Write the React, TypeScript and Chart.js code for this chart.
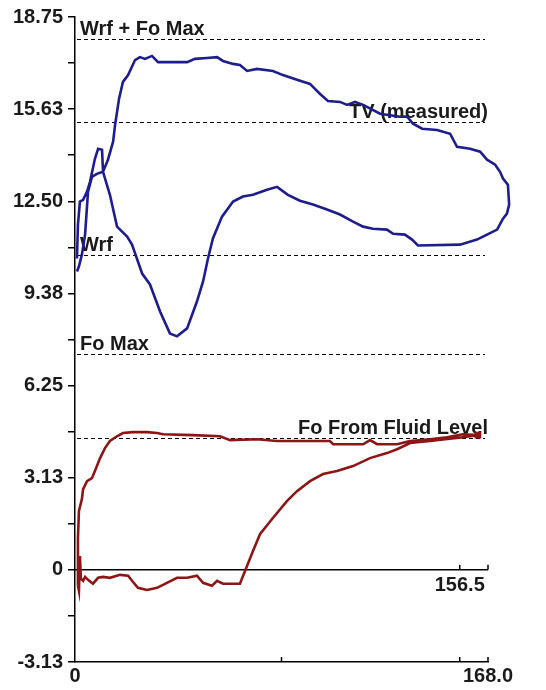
import React, { useEffect, useRef } from 'react';
import { Chart, registerables } from 'chart.js';

Chart.register(...registerables);

// Measured card (blue loop): [position, load]
const tvCard: [number, number][] = [
  [0.8, 10.12], [1.6, 10.29], [2.8, 10.69], [4.1, 11.37], [5.3, 12.83], [6.9, 13.33], [8.9, 13.43],
  [11.4, 13.5], [13.4, 13.91], [15.5, 14.52], [16.3, 15.09], [17.9, 15.97], [19.5, 16.55], [21.6, 16.78],
  [24.4, 17.29], [26.4, 17.39], [28.5, 17.33], [31.3, 17.43], [33.8, 17.22], [45.6, 17.22], [48.8, 17.33],
  [53.7, 17.36], [57.8, 17.39], [60.2, 17.26], [64.3, 17.16], [67.1, 17.12], [70.0, 16.92], [74.0, 16.99],
  [80.5, 16.92], [84.6, 16.78], [90.3, 16.62], [95.6, 16.48], [99.7, 16.14], [102.9, 15.9], [107.8, 15.87],
  [110.7, 15.77], [113.9, 15.87], [117.2, 15.77], [124.1, 15.47], [132.2, 15.37], [135.1, 15.37],
  [137.5, 15.13], [141.2, 14.96], [147.3, 14.92], [152.6, 14.79], [155.4, 14.35], [160.7, 14.28],
  [164.8, 14.18], [167.6, 13.91], [170.9, 13.74], [172.9, 13.5], [174.1, 13.27], [176.1, 13.06],
  [176.6, 12.39], [175.7, 12.08], [174.1, 11.91], [171.7, 11.54], [167.6, 11.37], [163.5, 11.2],
  [156.6, 11.03], [139.5, 11.0], [137.1, 11.2], [134.2, 11.37], [129.4, 11.4], [126.9, 11.54],
  [121.2, 11.57], [117.2, 11.64], [113.1, 11.81], [107.8, 12.05], [102.5, 12.22], [96.8, 12.39],
  [91.5, 12.52], [86.6, 12.72], [82.2, 12.99], [78.1, 12.89], [72.4, 12.72], [68.3, 12.66], [64.3, 12.49],
  [59.8, 11.98], [56.1, 11.24], [54.1, 10.56], [52.1, 9.78], [49.6, 9.1], [45.6, 8.19], [41.5, 7.92],
  [38.6, 8.02], [34.6, 8.76], [30.5, 9.68], [27.3, 10.05], [23.2, 11.03], [21.2, 11.3], [17.1, 11.64],
  [14.2, 12.72], [11.4, 13.5], [11.0, 14.25], [9.4, 14.28], [8.1, 13.94], [6.1, 13.16], [4.9, 12.83],
  [3.3, 12.55], [2.0, 12.49], [1.2, 11.71], [0.8, 10.56],
];

// Pump card (red loop): [position, load]
const foCard: [number, number][] = [
  [1.2, -0.54], [1.2, 0.3], [1.2, 1.08], [1.6, 2.0], [2.8, 2.4], [3.3, 2.74], [4.9, 3.01], [6.9, 3.11],
  [8.1, 3.35], [10.2, 3.79], [12.2, 4.13], [14.2, 4.37], [17.1, 4.53], [19.5, 4.64], [23.6, 4.67],
  [29.3, 4.67], [33.4, 4.64], [35.8, 4.6], [48.0, 4.57], [59.0, 4.53], [63.1, 4.4], [74.0, 4.43],
  [82.2, 4.37], [103.7, 4.37], [105.0, 4.26], [117.2, 4.26], [120.0, 4.4], [122.9, 4.26], [131.0, 4.26],
  [136.3, 4.37], [144.4, 4.43], [151.3, 4.5], [157.8, 4.6], [163.9, 4.57],
  [157.8, 4.5], [144.4, 4.37], [136.3, 4.3], [131.0, 4.09], [126.9, 3.96], [120.0, 3.79], [113.1, 3.52],
  [106.6, 3.35], [100.9, 3.25], [95.6, 3.01], [90.3, 2.67], [86.2, 2.33], [80.5, 1.76], [75.3, 1.22],
  [72.4, 0.64], [69.2, -0.03], [67.1, -0.47], [63.1, -0.47], [60.2, -0.47], [57.8, -0.37], [55.7, -0.54],
  [52.1, -0.44], [49.6, -0.2], [45.6, -0.27], [41.5, -0.27], [37.4, -0.44], [33.4, -0.61], [29.3, -0.68],
  [25.6, -0.61], [23.2, -0.37], [21.6, -0.2], [18.3, -0.17], [14.2, -0.27], [11.4, -0.24], [9.4, -0.27],
  [7.3, -0.47], [5.3, -0.34], [4.1, -0.24], [3.3, -0.37], [2.4, -0.3], [2.0, 0.47], [1.6, -0.71], [1.2, -0.54],
];

const yTickValues = [
  -3.125, -1.5625, 0, 1.5625, 3.125, 4.6875, 6.25, 7.8125, 9.375, 10.9375, 12.5, 14.0625, 15.625, 17.1875, 18.75,
];
const yLabelValues = [18.75, 15.625, 12.5, 9.375, 6.25, 3.125, 0, -3.125];
const yLabelTexts = ['18.75', '15.63', '12.50', '9.38', '6.25', '3.13', '0', '-3.13'];

const xTickValues = [0, 84, 156.5, 168];
const xLabelValues = [0, 168];
const xLabelTexts = ['0', '168.0'];

const zeroTickValues = [156.5, 168];
const zeroLabelValue = 156.5;
const zeroLabelText = '156.5';

const refNames = ['Wrf + Fo Max', 'TV (measured)', 'Wrf', 'Fo Max', 'Fo From Fluid Level'];
const refValues = [18.0, 15.19, 10.69, 7.31, 4.47];
const refSides = ['left', 'right', 'left', 'left', 'right'];

const X_MIN = 0;
const X_MAX = 168;
const Y_MIN = -3.125;
const Y_MAX = 18.75;

const FONT_FAMILY = 'Arial, "Liberation Sans", Helvetica, sans-serif';
const TEXT_COLOR = '#1a1a1a';

const overlayPlugin = {
  id: 'overlay',
  beforeDatasetsDraw(chart: any) {
    const { ctx } = chart;
    const xs = chart.scales.x;
    const ys = chart.scales.y;
    ctx.save();
    ctx.strokeStyle = '#000';
    ctx.lineWidth = 1.5;

    // zero line with its ticks
    const y0 = ys.getPixelForValue(0);
    ctx.beginPath();
    ctx.moveTo(xs.getPixelForValue(X_MIN), y0);
    ctx.lineTo(xs.getPixelForValue(X_MAX), y0);
    ctx.stroke();
    zeroTickValues.forEach((v) => {
      const px = xs.getPixelForValue(v);
      ctx.beginPath();
      ctx.moveTo(px, y0);
      ctx.lineTo(px, y0 - 5);
      ctx.stroke();
    });

    // inward ticks on the bottom axis
    const yb = ys.getPixelForValue(Y_MIN);
    xTickValues.forEach((v) => {
      if (v === X_MIN) return;
      const px = xs.getPixelForValue(v);
      ctx.beginPath();
      ctx.moveTo(px, yb);
      ctx.lineTo(px, yb - 5);
      ctx.stroke();
    });

    // dashed reference lines
    ctx.setLineDash([4, 3]);
    ctx.lineWidth = 1.2;
    const dashL = xs.getPixelForValue(X_MIN) + 2;
    const dashR = xs.getPixelForValue(X_MAX) - 3;
    refValues.forEach((v) => {
      const py = Math.round(ys.getPixelForValue(v)) + 0.5;
      ctx.beginPath();
      ctx.moveTo(dashL, py);
      ctx.lineTo(dashR, py);
      ctx.stroke();
    });
    ctx.setLineDash([]);

    // labels
    ctx.font = `bold 20px ${FONT_FAMILY}`;
    ctx.fillStyle = TEXT_COLOR;
    ctx.textBaseline = 'alphabetic';
    refNames.forEach((name, i) => {
      const py = ys.getPixelForValue(refValues[i]) - 4;
      if (refSides[i] === 'left') {
        ctx.textAlign = 'left';
        ctx.fillText(name, xs.getPixelForValue(X_MIN) + 5, py);
      } else {
        ctx.textAlign = 'right';
        ctx.fillText(name, xs.getPixelForValue(X_MAX), py);
      }
    });

    ctx.textAlign = 'center';
    ctx.fillText(zeroLabelText, xs.getPixelForValue(zeroLabelValue), y0 + 21);
    ctx.restore();
  },
};

export default function App() {
  const canvasRef = useRef<HTMLCanvasElement | null>(null);

  useEffect(() => {
    if (!canvasRef.current) return;
    const tickFont = { family: FONT_FAMILY, size: 20, weight: 'bold' as const };
    const chart = new Chart(canvasRef.current, {
      type: 'scatter',
      data: {
        datasets: [
          {
            label: 'TV (measured)',
            data: tvCard.map(([x, y]) => ({ x, y })),
            showLine: true,
            borderColor: '#1d1d8c',
            backgroundColor: '#1d1d8c',
            borderWidth: 2.6,
            pointRadius: 0,
            tension: 0,
            clip: false as any,
          },
          {
            label: 'Pump card',
            data: foCard.map(([x, y]) => ({ x, y })),
            showLine: true,
            borderColor: '#8c1616',
            backgroundColor: '#8c1616',
            borderWidth: 2.6,
            pointStyle: 'rect',
            pointRadius: (c: any) => (c.dataIndex === 33 ? 3 : 0),
            tension: 0,
            clip: false as any,
          },
        ],
      },
      options: {
        responsive: false,
        animation: false,
        events: [],
        layout: { padding: { left: 0, top: 15, right: 58, bottom: 0 } },
        plugins: { legend: { display: false }, tooltip: { enabled: false } },
        scales: {
          x: {
            type: 'linear',
            min: X_MIN,
            max: X_MAX,
            afterBuildTicks: (s: any) => {
              s.ticks = xTickValues.map((v) => ({ value: v }));
            },
            afterFit: (s: any) => {
              s.height = 28;
            },
            grid: { display: false, drawTicks: false },
            border: { display: true, color: '#000', width: 1.5 },
            ticks: {
              autoSkip: false,
              maxRotation: 0,
              padding: 2,
              color: TEXT_COLOR,
              font: tickFont,
              callback: (v: any) => {
                const i = xLabelValues.indexOf(Number(v));
                return i >= 0 ? xLabelTexts[i] : '';
              },
            },
          },
          y: {
            type: 'linear',
            min: Y_MIN,
            max: Y_MAX,
            afterBuildTicks: (s: any) => {
              s.ticks = yTickValues.map((v) => ({ value: v }));
            },
            afterFit: (s: any) => {
              s.width = 75;
            },
            grid: {
              display: true,
              drawOnChartArea: false,
              drawTicks: true,
              tickLength: 7,
              color: '#000',
              lineWidth: 1.5,
            },
            border: { display: true, color: '#000', width: 1.5 },
            ticks: {
              autoSkip: false,
              padding: 5,
              color: TEXT_COLOR,
              font: tickFont,
              callback: (v: any) => {
                const i = yLabelValues.indexOf(Number(v));
                return i >= 0 ? yLabelTexts[i] : '';
              },
            },
          },
        },
      },
      plugins: [overlayPlugin],
    });
    return () => chart.destroy();
  }, []);

  return (
    <div style={{ position: 'fixed', left: 0, top: 0, width: 546, height: 690, background: '#fff' }}>
      <canvas ref={canvasRef} width={546} height={690} style={{ display: 'block', width: 546, height: 690 }} />
    </div>
  );
}
